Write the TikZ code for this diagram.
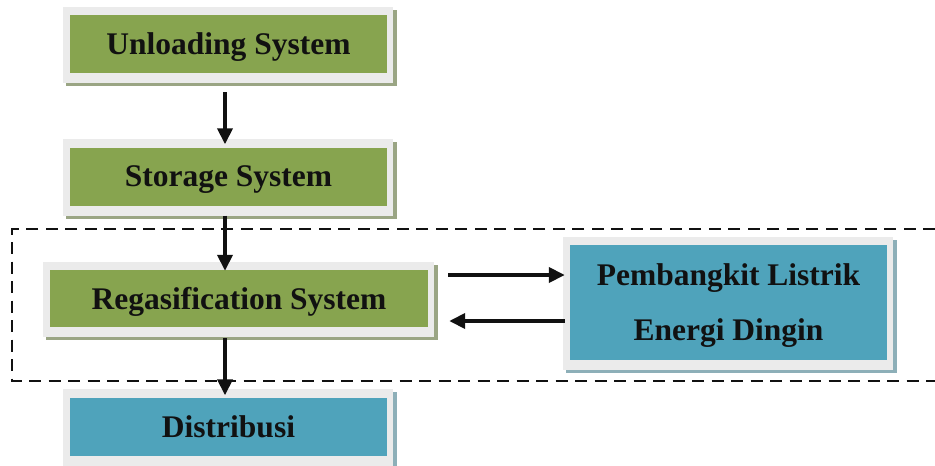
\documentclass[tikz,border=0pt]{standalone}
\usepackage{fontspec}
\setmainfont{Liberation Serif}
\usetikzlibrary{arrows.meta,backgrounds,calc}
\definecolor{gfill}{HTML}{87A44F}
\definecolor{bfill}{HTML}{4FA3BB}
\definecolor{framec}{HTML}{EBEBEB}
\definecolor{gshadow}{HTML}{9AA584}
\definecolor{bshadow}{HTML}{8DAFB8}
\definecolor{txt}{HTML}{111111}
\tikzset{
  box/.style={minimum width=317pt, minimum height=58pt, inner sep=0pt,
    text depth=0pt, font=\fontsize{31.5}{36}\selectfont\bfseries, text=txt},
  gbox/.style={box, fill=gfill},
  bbox/.style={box, fill=bfill},
  arr/.style={line width=3.8pt, draw=txt, -{Triangle[width=15pt,length=16pt]}},
  dashbox/.style={line width=2.8pt, draw=txt, dash pattern=on 12pt off 7.5pt},
}
\newcommand{\myframe}[2]{%
  \fill[#2] ([shift={(-4,-5)}]#1.north west) rectangle ([shift={(10,13)}]#1.south east);
  \fill[framec] ([shift={(-7,-8)}]#1.north west) rectangle ([shift={(6,10)}]#1.south east);
}
\begin{document}
\begin{tikzpicture}[x=1pt,y=-1pt]
  \useasboundingbox (0,0) rectangle (935,466);

  \node[gbox] (u) at (228.5,44) {Unloading System};
  \node[gbox] (s) at (228.5,176.5) {Storage System};
  \node[gbox, minimum width=378pt, minimum height=57pt] (r) at (239,298.5) {Regasification System};
  \node[bbox] (d) at (228.5,426.5) {Distribusi};
  \node[bbox, minimum height=115pt, align=center,
        font=\fontsize{31.5}{55}\selectfont\bfseries] (p) at (728.5,302.5)
        {Pembangkit Listrik\\Energi Dingin};

  \begin{scope}[on background layer]
    \fill[white] (0,0) rectangle (935,466);
    \myframe{u}{gshadow}
    \myframe{s}{gshadow}
    \myframe{r}{gshadow}
    \myframe{d}{bshadow}
    \myframe{p}{bshadow}
  \end{scope}

  % dashed group frame
  \coordinate (dtr) at (935,229);
  \coordinate (dtl) at (12,229);
  \coordinate (dbl) at (12,381);
  \coordinate (dbr) at (935,381);
  \draw[dashbox] (dtr) -- (dtl) -- (dbl) -- (dbr);

  % vertical arrows
  \draw[arr] ([shift={(-3.5,19)}]u.south) -- ([shift={(-3.5,-3)}]s.north);
  \draw[arr] ([shift={(-3.5,10)}]s.south) -- ($(s.south |- r.north)+(-3.5,1)$);
  \draw[arr] ($(s.south |- r.south)+(-3.5,11)$) -- ([shift={(-3.5,-2)}]d.north);

  % horizontal arrows
  \draw[arr] ($(r.east)+(20,-23.5)$) -- ($(p.west)+(-5,-27.5)$);
  \draw[arr] ($(p.west)+(-5,18.5)$) -- ($(r.east)+(21,22.5)$);
\end{tikzpicture}
\end{document}
